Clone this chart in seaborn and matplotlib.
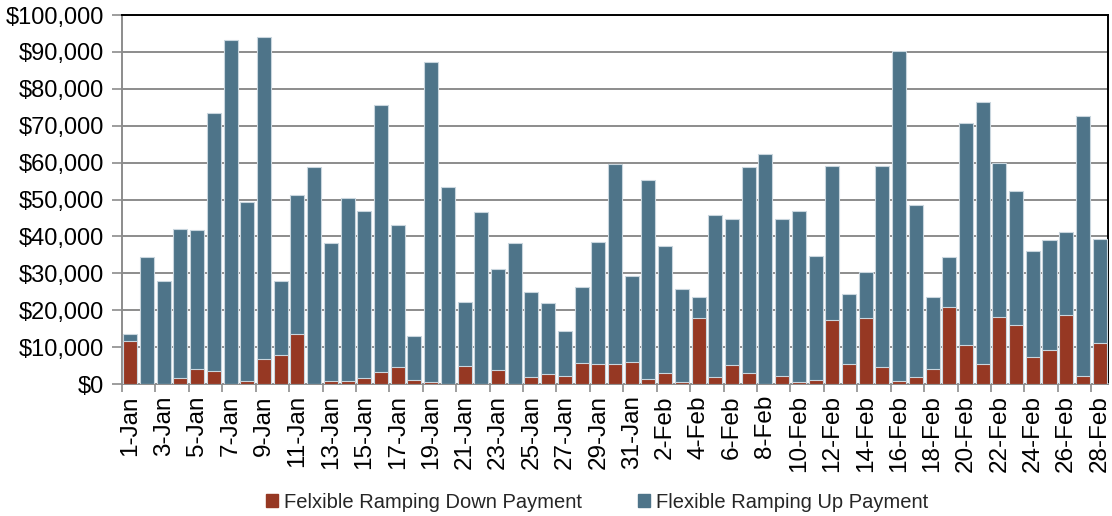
import numpy as np
import pandas as pd
import matplotlib
matplotlib.use("Agg")
import matplotlib.pyplot as plt
from matplotlib.ticker import FuncFormatter, FixedLocator
import seaborn as sns

# Daily flexible ramping payments, 1 Jan - 28 Feb
days = [f"{d}-Jan" for d in range(1, 32)] + [f"{d}-Feb" for d in range(1, 29)]

down_payment = [
    11600, 0, 0, 1500, 4200, 3400, 0, 700, 6900, 7900,
    13500, 0, 700, 700, 1600, 3200, 4500, 1100, 600, 0,
    4900, 0, 3800, 0, 1800, 2700, 2300, 5600, 5300, 5400,
    6000, 1400, 3100, 500, 17800, 2000, 5200, 2900, 0, 2300,
    600, 1100, 17400, 5400, 18000, 4500, 700, 1800, 4000, 20900,
    10600, 5300, 18200, 16000, 7200, 9200, 18800, 2100, 11200,
]

up_payment = [
    1900, 34300, 28000, 40600, 37500, 70100, 93200, 48500, 87200, 19900,
    37800, 58800, 37500, 49700, 45200, 72400, 38600, 12000, 86800, 53400,
    17300, 46500, 27300, 38100, 23100, 19200, 12200, 20700, 33200, 54300,
    23400, 53800, 34400, 25200, 5900, 43800, 39500, 55800, 62200, 42300,
    46200, 33600, 41800, 19000, 12300, 54500, 89600, 46800, 19600, 13400,
    60000, 71100, 41700, 36300, 28900, 29700, 22300, 70600, 28100,
]

down_label = "Felxible Ramping Down Payment"
up_label = "Flexible Ramping Up Payment"

df = pd.DataFrame({"day": days, "down": down_payment, "up": up_payment})
df["total"] = df["down"] + df["up"]

RED = "#963823"
BLUE = "#4E7489"
EDGE = "#C9D6DE"

sns.set_theme(style="white")
plt.rcParams["font.family"] = ["Liberation Sans", "DejaVu Sans"]

fig = plt.figure(figsize=(11.12, 5.16), dpi=100)
ax = fig.add_axes([0.1097, 0.2558, 0.8867, 0.7151])

# Stacked bars: full height in blue, down payment drawn over the base in red
sns.barplot(data=df, x="day", y="total", color=BLUE, saturation=1,
            width=0.84, edgecolor=EDGE, linewidth=0.8, ax=ax, zorder=3)
sns.barplot(data=df, x="day", y="down", color=RED, saturation=1,
            width=0.84, edgecolor=EDGE, linewidth=0.8, ax=ax, zorder=4)

ax.set_xlim(-0.5, len(days) - 0.5)
ax.set_ylim(0, 100000)
ax.set_xlabel("")
ax.set_ylabel("")

# y axis
ax.yaxis.set_major_locator(FixedLocator(np.arange(0, 100001, 10000)))
ax.yaxis.set_major_formatter(FuncFormatter(lambda v, p: f"${v:,.0f}"))
ax.grid(axis="y", color="#8C8C8C", linewidth=1.4, zorder=0)
ax.set_axisbelow(True)
ax.tick_params(axis="y", which="major", length=7, width=1.2, color="#8C8C8C",
               labelsize=17, pad=6, left=True, labelcolor="black")

# x axis: every other date labelled, tick marks between categories
pos = np.arange(len(days))
ax.xaxis.set_major_locator(FixedLocator(pos[::2]))
ax.set_xticklabels(days[::2], rotation=90, fontsize=17.5)
ax.xaxis.set_minor_locator(FixedLocator(np.arange(-0.5, len(days), 2)))
ax.tick_params(axis="x", which="major", length=0, pad=8, labelcolor="black")
ax.tick_params(axis="x", which="minor", length=6, width=1.2, color="#8C8C8C",
               bottom=True)

for side in ("left", "bottom"):
    ax.spines[side].set_color("#8C8C8C")
    ax.spines[side].set_linewidth(1.4)
for side in ("top", "right"):
    ax.spines[side].set_color("black")
    ax.spines[side].set_linewidth(1.4)

handles = [plt.Rectangle((0, 0), 1, 1, color=RED),
           plt.Rectangle((0, 0), 1, 1, color=BLUE)]
fig.legend(handles, [down_label, up_label], loc="center",
           bbox_to_anchor=(0.537, 0.027), ncol=2, frameon=False,
           fontsize=14.5, handlelength=0.6, handleheight=0.6,
           handletextpad=0.3, columnspacing=2.8)

fig.savefig("out.png", dpi=100)
